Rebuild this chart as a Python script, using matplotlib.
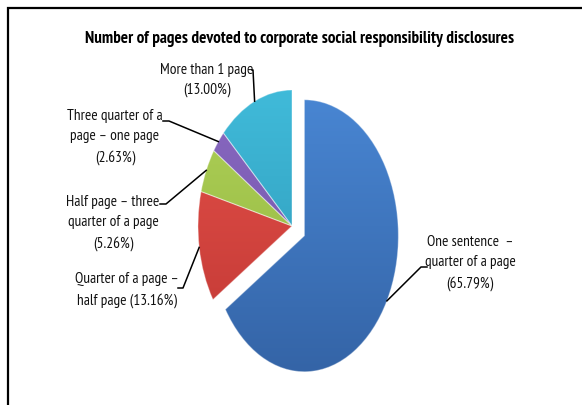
import numpy as np
import matplotlib.pyplot as plt
from matplotlib.colors import LinearSegmentedColormap
from matplotlib.patches import Rectangle

# share of reports by length of CSR disclosure
categories = ['One sentence –\nquarter of a page',
              'Quarter of a page –\nhalf page',
              'Half page – three\nquarter of a page',
              'Three quarter of a\npage – one page',
              'More than 1 page']
shares = [65.79, 13.16, 5.26, 2.63, 13.00]
label_text = ['One sentence  –\nquarter of a page\n(65.79%)',
              'Quarter of a page –\nhalf page (13.16%)',
              'Half page – three\nquarter of a page\n(5.26%)',
              'Three quarter of a\npage – one page\n(2.63%)',
              'More than 1 page\n(13.00%)']
explode = [0.15, 0, 0, 0, 0]
light = ['#4B8AD8', '#E8534C', '#B2D35A', '#8C6CC4', '#42BEDD']
dark = ['#3362A4', '#BE3632', '#8FB33D', '#6C4EA4', '#2B93B2']

plt.rcParams['font.family'] = ['PT Sans Narrow', 'DejaVu Sans']

fig = plt.figure(figsize=(5.82, 4.05), dpi=100)
ax = fig.add_axes([0, 0, 1, 1])

wedges, _ = ax.pie(shares, explode=explode, startangle=90, counterclock=False,
                   colors=dark, wedgeprops=dict(linewidth=0.8))
ax.set_aspect('auto')
ax.set_xlim(-292 / 94, (582 - 292) / 94)
ax.set_ylim(-179 / 136, (405 - 179) / 136)
ax.axis('off')

# vertical shading inside each slice
grad = np.linspace(0, 1, 256).reshape(-1, 1)
for w, c0, c1 in zip(wedges, light, dark):
    cmap = LinearSegmentedColormap.from_list('s', [c1, c0])
    im = ax.imshow(grad, cmap=cmap, extent=(-1.3, 1.3, -1.2, 1.2),
                   origin='lower', aspect='auto', zorder=w.get_zorder() + 0.1)
    im.set_clip_path(w)
    w.set_zorder(w.get_zorder() + 0.2)
    w.set_facecolor('none')
    w.set_edgecolor((1, 1, 1, 0.35))

# label centres (axes fraction) and the elbow where each leader leaves the text
label_pos = [(470 / 582, 1 - 263 / 405), (127 / 582, 1 - 290 / 405),
             (113 / 582, 1 - 223 / 405), (115 / 582, 1 - 137 / 405),
             (207 / 582, 1 - 80 / 405)]
elbow = [((427, 267), (421, 267)), ((178, 288), (183, 288)),
         ((160, 204), (166, 204)), ((163, 121), (169, 121)),
         ((252, 70), (253, 70))]

to_data = ax.transData.inverted()
for w, txt, pos, (e0, e1), ex in zip(wedges, label_text, label_pos, elbow, explode):
    ax.text(pos[0], pos[1], txt, transform=ax.transAxes, ha='center', va='center',
            fontsize=11, linespacing=1.55, color='#111111')
    mid = np.deg2rad((w.theta1 + w.theta2) / 2)
    px = (1 + ex) * np.cos(mid)
    py = (1 + ex) * np.sin(mid)
    a = to_data.transform((e0[0], 405 - e0[1]))
    b = to_data.transform((e1[0], 405 - e1[1]))
    ax.plot([a[0], b[0], px], [a[1], b[1], py], color='black', lw=1.1, zorder=5)

fig.text(300 / 582, 1 - 39 / 405,
         'Number of pages devoted to corporate social responsibility disclosures',
         ha='center', va='center', fontsize=12.3, fontweight='bold')

# chart frame
fig.patches.append(Rectangle((8 / 582, -0.05), 1.2, 1 - 8 / 405 + 0.05,
                             transform=fig.transFigure, fill=False,
                             edgecolor='black', linewidth=1.6))

fig.savefig('out.png', dpi=100)
